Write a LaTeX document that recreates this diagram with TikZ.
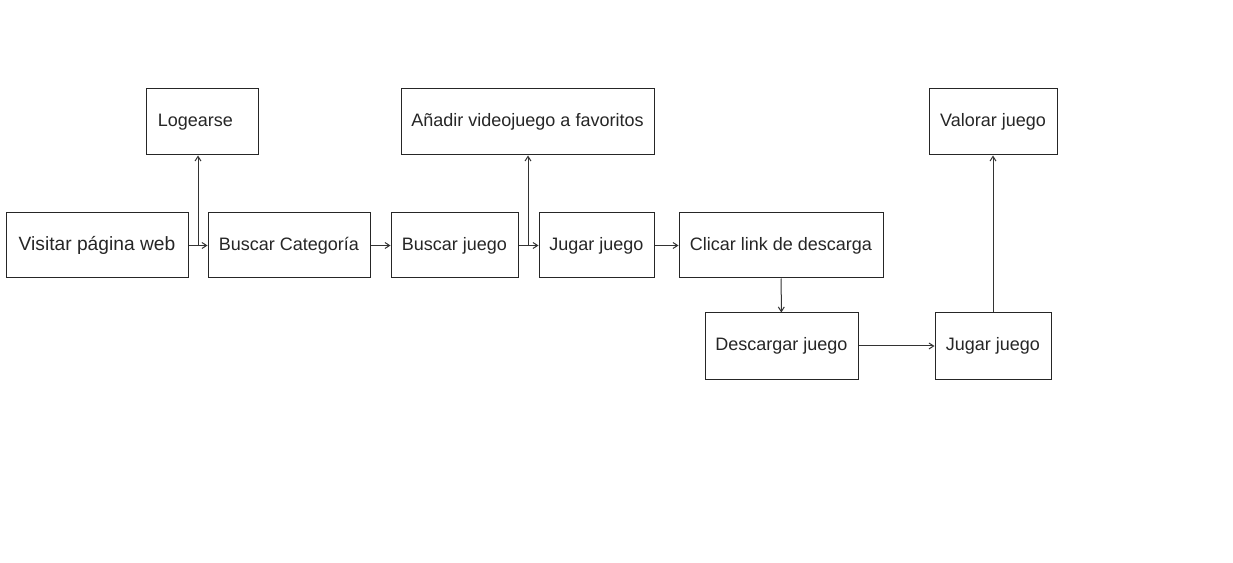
\documentclass[tikz,border=0pt]{standalone}
\usepackage{fontspec}
\setmainfont{Liberation Sans}
\usetikzlibrary{arrows.meta}
\begin{document}
\begin{tikzpicture}[x=0.75pt,y=-0.75pt,
  box/.style={draw=black!85, line width=0.75pt, fill=white, text=black!85, inner sep=0pt,
    font=\fontsize{13.5pt}{16pt}\selectfont},
  conn/.style={draw=black!80, line width=0.75pt, -{Straight Barb[length=3.5pt,width=4.5pt]}}]
\useasboundingbox (0,0) rectangle (1233,563);
\node[box, minimum width=182*0.75pt, minimum height=65*0.75pt, font=\fontsize{14.4pt}{17pt}\selectfont] (v) at (97,245.5) {Visitar página web};
\node[box, minimum width=112*0.75pt, minimum height=66*0.75pt] (log) at (202,122) {\hspace*{-10pt}Logearse};
\node[box, minimum width=162*0.75pt, minimum height=65*0.75pt] (bc) at (289,245.5) {Buscar Categoría};
\node[box, minimum width=127*0.75pt, minimum height=65*0.75pt] (bj) at (454.5,245.5) {Buscar juego};
\node[box, minimum width=253*0.75pt, minimum height=66*0.75pt] (an) at (527.5,122) {Añadir videojuego a favoritos};
\node[box, minimum width=115*0.75pt, minimum height=65*0.75pt] (jj) at (596.5,245.5) {Jugar juego};
\node[box, minimum width=204*0.75pt, minimum height=65*0.75pt] (cl) at (781,245.5) {Clicar link de descarga};
\node[box, minimum width=128*0.75pt, minimum height=66*0.75pt] (val) at (993,122) {Valorar juego};
\node[box, minimum width=153*0.75pt, minimum height=66*0.75pt] (dj) at (781.5,346) {Descargar juego};
\node[box, minimum width=116*0.75pt, minimum height=66*0.75pt] (j2) at (993,346) {Jugar juego};
\coordinate (b1) at (198,245.5);
\coordinate (b2) at (528,245.5);
\draw[conn] (v) -- (bc);
\draw[conn] (b1) -- (b1 |- log.south);
\draw[conn] (bc) -- (bj);
\draw[conn] (bj) -- (jj);
\draw[conn] (b2) -- (b2 |- an.south);
\draw[conn] (jj) -- (cl);
\draw[conn] (cl) -- (dj);
\draw[conn] (dj) -- (j2);
\draw[conn] (j2) -- (val);
\end{tikzpicture}
\end{document}
